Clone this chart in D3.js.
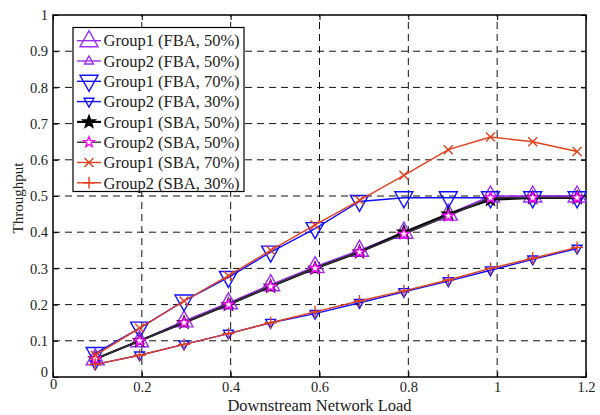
<!DOCTYPE html>
<html>
<head>
<meta charset="utf-8">
<script src="https://cdn.jsdelivr.net/npm/d3@7"></script>
<style>
body { margin: 0; background: #fff; }
svg text { font-family: "Liberation Serif", "Times New Roman", serif; fill: #222; }
</style>
</head>
<body>
<div class="throughput-plot"></div>
<script>
// x values (downstream network load)
const loads = [0.095, 0.195, 0.295, 0.395, 0.49, 0.59, 0.69, 0.79, 0.89, 0.985, 1.08, 1.18];

// throughput per series
const g1Fba50 = [0.05, 0.10, 0.155, 0.205, 0.255, 0.305, 0.35, 0.40, 0.45, 0.50, 0.50, 0.50];
const g2Fba50 = [0.05, 0.10, 0.15, 0.20, 0.25, 0.30, 0.345, 0.395, 0.445, 0.495, 0.50, 0.50];
const g1Fba70 = [0.065, 0.135, 0.21, 0.275, 0.345, 0.41, 0.485, 0.495, 0.495, 0.495, 0.495, 0.495];
const g2Fba30 = [0.035, 0.06, 0.09, 0.12, 0.15, 0.175, 0.205, 0.235, 0.265, 0.295, 0.325, 0.355];
const g1Sba50 = [0.05, 0.10, 0.15, 0.20, 0.25, 0.30, 0.345, 0.40, 0.45, 0.49, 0.495, 0.495];
const g2Sba50 = [0.05, 0.10, 0.15, 0.20, 0.25, 0.30, 0.345, 0.395, 0.445, 0.495, 0.495, 0.495];
const g1Sba70 = [0.06, 0.135, 0.21, 0.28, 0.35, 0.42, 0.488, 0.557, 0.628, 0.663, 0.65, 0.623];
const g2Sba30 = [0.035, 0.06, 0.09, 0.12, 0.15, 0.18, 0.21, 0.238, 0.268, 0.30, 0.328, 0.358];

const seriesNames = ["Group1 (FBA, 50%)", "Group2 (FBA, 50%)", "Group1 (FBA, 70%)", "Group2 (FBA, 30%)",
	"Group1 (SBA, 50%)", "Group2 (SBA, 50%)", "Group1 (SBA, 70%)", "Group2 (SBA, 30%)"];
const seriesValues = [g1Fba50, g2Fba50, g1Fba70, g2Fba30, g1Sba50, g2Sba50, g1Sba70, g2Sba30];

const xTicks = [0, 0.2, 0.4, 0.6, 0.8, 1, 1.2];
const yTicks = [0, 0.1, 0.2, 0.3, 0.4, 0.5, 0.6, 0.7, 0.8, 0.9, 1];

// look of each series: line colour, marker shape, marker colours
const purple = "#9a2ff0", blue = "#1010ff", red = "#e2401c";
const styles = [
	{line: purple, mark: "up", r: 10, stroke: purple, fill: "none"},
	{line: purple, mark: "up", r: 5, stroke: purple, fill: "none"},
	{line: blue, mark: "down", r: 10, stroke: blue, fill: "none"},
	{line: blue, mark: "down", r: 5.5, stroke: blue, fill: "none"},
	{line: "#000", mark: "star", r: 6.5, stroke: "#000", fill: "#000", lw: 2.2},
	{line: "#333", mark: "star", r: 5.5, stroke: "#ff00ff", fill: "#fff"},
	{line: red, mark: "times", r: 4.5, stroke: red, fill: "none"},
	{line: red, mark: "plus", r: 6, stroke: red, fill: "none"}
];

function markerPath(type, r) {
	if (type === "up") {
		return `M0,${-r} L${r * 0.9},${r * 0.6} L${-r * 0.9},${r * 0.6}Z`;
	} else if (type === "down") {
		return `M0,${r} L${r * 0.9},${-r * 0.6} L${-r * 0.9},${-r * 0.6}Z`;
	} else if (type === "times") {
		return `M${-r},${-r}L${r},${r}M${-r},${r}L${r},${-r}`;
	} else if (type === "plus") {
		return `M${-r},0L${r},0M0,${-r}L0,${r}`;
	}
	// five pointed star
	let pts = [];
	for (let i = 0; i < 10; i++) {
		const a = -Math.PI / 2 + i * Math.PI / 5;
		const rr = i % 2 === 0 ? r : r * 0.42;
		pts.push([rr * Math.cos(a), rr * Math.sin(a)]);
	}
	return "M" + pts.map(p => p.join(",")).join("L") + "Z";
}

const width = 600;
const height = 415;
const margin = {left: 53, right: 14, top: 15, bottom: 38};

const svg = d3.select('.throughput-plot')
	.append('svg')
	.attr('width', width)
	.attr('height', height);

const x = d3.scaleLinear().domain([0, 1.2]).range([margin.left, width - margin.right]);
const y = d3.scaleLinear().domain([0, 1]).range([height - margin.bottom, margin.top]);

// dashed grid
const grid = svg.append('g').attr('stroke', '#111').attr('stroke-width', 1).attr('stroke-dasharray', '7,5');
grid.selectAll('.vgrid')
	.data(xTicks.slice(1, -1))
	.enter()
	.append('line')
	.attr('x1', d => x(d)).attr('x2', d => x(d))
	.attr('y1', y(0)).attr('y2', y(1));
grid.selectAll('.hgrid')
	.data(yTicks.slice(1, -1))
	.enter()
	.append('line')
	.attr('x1', x(0)).attr('x2', x(1.2))
	.attr('y1', d => y(d)).attr('y2', d => y(d));

// axes with inner ticks, on all four sides
const xAxis = svg.append('g')
	.attr('transform', `translate(0,${y(0)})`)
	.call(d3.axisBottom(x).tickValues(xTicks).tickFormat(d3.format('')).tickSizeInner(-5).tickSizeOuter(0).tickPadding(5));
const yAxis = svg.append('g')
	.attr('transform', `translate(${x(0)},0)`)
	.call(d3.axisLeft(y).tickValues(yTicks).tickFormat(d3.format('')).tickSizeInner(-5).tickSizeOuter(0).tickPadding(5));
svg.append('g')
	.attr('transform', `translate(0,${y(1)})`)
	.call(d3.axisTop(x).tickValues(xTicks).tickFormat('').tickSizeInner(-5).tickSizeOuter(0));
svg.append('g')
	.attr('transform', `translate(${x(1.2)},0)`)
	.call(d3.axisRight(y).tickValues(yTicks).tickFormat('').tickSizeInner(-5).tickSizeOuter(0));
svg.selectAll('.domain').remove();
svg.selectAll('.tick line').attr('stroke', '#000');
svg.selectAll('.tick text').attr('font-size', 14.5).attr('fill', '#222')
	.attr('font-family', '"Liberation Serif", serif');
yAxis.selectAll('.tick text').filter(d => d === 0).attr('dy', '-0.05em');
xAxis.selectAll('.tick text').filter(d => d === 0).attr('dy', '0.45em');

svg.append('rect')
	.attr('x', x(0)).attr('y', y(1))
	.attr('width', x(1.2) - x(0)).attr('height', y(0) - y(1))
	.attr('fill', 'none').attr('stroke', '#000').attr('stroke-width', 1.5);

// series
const line = d3.line().x(d => x(d[0])).y(d => y(d[1]));
seriesValues.forEach((vals, i) => {
	const st = styles[i];
	const pts = loads.map((l, j) => [l, vals[j]]);
	const g = svg.append('g');
	g.append('path')
		.attr('d', line(pts))
		.attr('fill', 'none')
		.attr('stroke', st.line)
		.attr('stroke-width', st.lw || 1.4);
	g.selectAll('path.mk')
		.data(pts)
		.enter()
		.append('path')
		.attr('class', 'mk')
		.attr('transform', d => `translate(${x(d[0])},${y(d[1])})`)
		.attr('d', markerPath(st.mark, st.r))
		.attr('fill', st.fill)
		.attr('stroke', st.stroke)
		.attr('stroke-width', 1.4);
});

// legend
const legend = svg.append('g');
legend.append('rect')
	.attr('x', 73).attr('y', 27.5)
	.attr('width', 171).attr('height', 164)
	.attr('fill', '#fff').attr('stroke', '#000').attr('stroke-width', 1.2);
seriesNames.forEach((name, i) => {
	const st = styles[i];
	const ly = 40.7 + i * 20.3;
	legend.append('line')
		.attr('x1', 77).attr('x2', 101)
		.attr('y1', ly).attr('y2', ly)
		.attr('stroke', st.line).attr('stroke-width', st.lw || 1.4);
	legend.append('path')
		.attr('transform', `translate(89,${ly})`)
		.attr('d', markerPath(st.mark, st.r))
		.attr('fill', st.fill)
		.attr('stroke', st.stroke)
		.attr('stroke-width', 1.4);
	legend.append('text')
		.attr('x', 103.5).attr('y', ly)
		.attr('dy', '0.35em')
		.attr('font-size', 16.5)
		.text(name);
});

// axis titles
svg.append('text')
	.attr('x', (x(0) + x(1.2)) / 2).attr('y', 411)
	.attr('text-anchor', 'middle')
	.attr('font-size', 16.5)
	.text('Downstream Network Load');
svg.append('text')
	.attr('transform', `translate(23,198) rotate(-90)`)
	.attr('text-anchor', 'middle')
	.attr('font-size', 15)
	.text('Throughput');
</script>
</body>
</html>
